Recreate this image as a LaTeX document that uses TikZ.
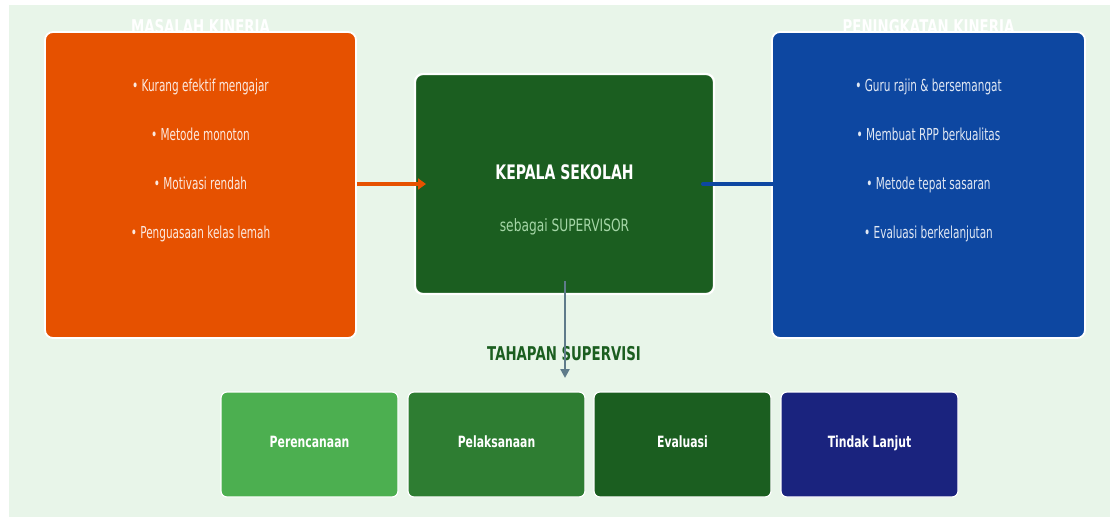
\documentclass[tikz,border=0pt]{standalone}
\usepackage{fontspec}
\setmainfont{DejaVu Sans}[FakeStretch=0.7]
\newfontfamily\itemfont{DejaVu Sans}[FakeStretch=0.635]
\newfontfamily\subfont{DejaVu Sans}[FakeStretch=0.72]
\usetikzlibrary{arrows.meta}
\definecolor{panel}{HTML}{E8F5E9}
\definecolor{orangebox}{HTML}{E65100}
\definecolor{greenbox}{HTML}{1B5E20}
\definecolor{bluebox}{HTML}{0D47A1}
\definecolor{subtxt}{HTML}{A5D6A7}
\definecolor{grayarrow}{HTML}{5F7B8A}
\definecolor{stepa}{HTML}{4CAF50}
\definecolor{stepb}{HTML}{2E7D32}
\definecolor{stepc}{HTML}{1B5E20}
\definecolor{stepd}{HTML}{1A237E}
\begin{document}
\begin{tikzpicture}[x=1pt,y=-1pt,
  box/.style={draw=white, line width=1.8pt, rounded corners=8pt, inner sep=0pt},
  bigbox/.style={box, minimum width=311pt, minimum height=306pt},
  stepbox/.style={box, line width=1.2pt, rounded corners=6pt, minimum width=177pt, minimum height=105pt,
     text height=9pt, text depth=4pt,
     text=white, font=\fontsize{15.5}{18}\selectfont\bfseries},
  item/.style={anchor=base, inner sep=0pt, text=white, text opacity=0.88, font=\fontsize{16.5}{20}\selectfont\itemfont},
  ttl/.style={anchor=base, inner sep=0pt, font=\fontsize{19}{22}\selectfont\bfseries}]
\useasboundingbox (0,0) rectangle (1110,517);
\fill[panel] (9,5) rectangle (1110,517);

% titles behind boxes
\node[ttl, text=white] (tl) at (200.5,33) {MASALAH KINERJA};
\node[ttl, text=white] (tr) at (928.5,33) {PENINGKATAN KINERJA};

% main boxes
\node[bigbox, fill=orangebox] (prob) at (200.5,185) {};
\node[bigbox, fill=bluebox, minimum width=313pt] (gain) at (928.5,185) {};
\node[box, fill=greenbox, line width=2.2pt, minimum width=299pt, minimum height=220pt] (head) at (564.5,184) {};

% left items
\node[item] (l1) at (200.5,91) {• Kurang efektif mengajar};
\node[item] (l2) at (200.5,140) {• Metode monoton};
\node[item] (l3) at (200.5,189) {• Motivasi rendah};
\node[item] (l4) at (200.5,238) {• Penguasaan kelas lemah};

% right items
\node[item] (r1) at (928.5,91) {• Guru rajin \& bersemangat};
\node[item] (r2) at (928.5,140) {• Membuat RPP berkualitas};
\node[item] (r3) at (928.5,189) {• Metode tepat sasaran};
\node[item] (r4) at (928.5,238) {• Evaluasi berkelanjutan};

% centre texts
\node[ttl, text=white, font=\fontsize{20}{24}\selectfont\bfseries] (kh) at (564.5,179) {KEPALA SEKOLAH};
\node[anchor=base, inner sep=0pt, text=subtxt, font=\fontsize{17}{20}\selectfont\subfont] (ks) at (564.5,231) {sebagai SUPERVISOR};

% stage title
\node[ttl, text=greenbox] (st) at (564,360) {TAHAPAN SUPERVISI};

% stage boxes
\node[stepbox, fill=stepa] (s1) at (309.5,444.5) {Perencanaan};
\node[stepbox, fill=stepb] (s2) at (496.5,444.5) {Pelaksanaan};
\node[stepbox, fill=stepc] (s3) at (682.5,444.5) {Evaluasi};
\node[stepbox, fill=stepd] (s4) at (869.5,444.5) {Tindak Lanjut};

% connectors
\coordinate (oa) at (426,184);
\coordinate (ba) at (703,184);
\coordinate (bb) at (781,184);
\coordinate (ga) at (565,281);
\coordinate (gb) at (565,378);
\draw[orangebox, line width=4pt, -{Triangle[length=8pt,width=11pt]}] (prob.east |- oa) -- (oa);
\draw[bluebox, line width=4pt, line cap=round, -{Triangle[length=7pt,width=10pt]}] (ba) -- (bb);
\draw[grayarrow, line width=2.4pt, -{Triangle[length=9pt,width=9pt]}] (ga) -- (gb);
\end{tikzpicture}
\end{document}
